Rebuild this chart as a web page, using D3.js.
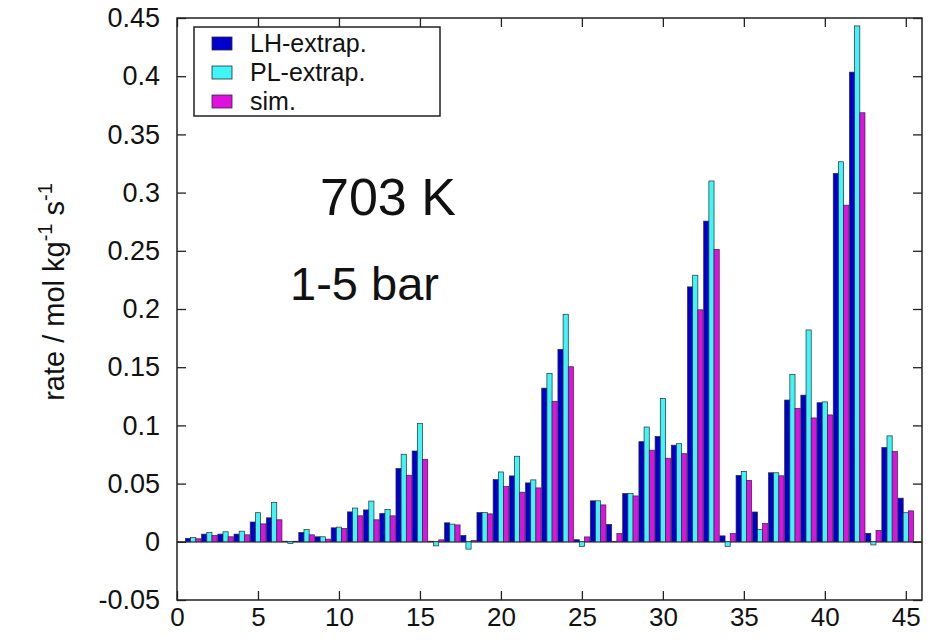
<!DOCTYPE html>
<html lang="en">
<head>
	<meta charset="utf-8">
	<title>Rate bars 703 K</title>
	<script src="https://d3js.org/d3.v7.min.js"></script>
	<style>
		body { margin: 0; background: #fff; }
		svg text { font-family: "Liberation Sans", Arial, sans-serif; fill: #111; }
		.tick line { stroke: #222; stroke-width: 1.3; }
		.domain { display: none; }
	</style>
</head>
<body>
	<div id="chart"></div>
	<script>
		// Data
		const cases = d3.range(1, 46);
		const seriesNames = ["LH-extrap.", "PL-extrap.", "sim."];
		const seriesColors = ["#0000cc", "#3ff5f5", "#e010e0"];

		const lhExtrap = [
			0.003, 0.0066, 0.0066, 0.0066, 0.017, 0.0206, 0.0005, 0.008, 0.0043, 0.012,
			0.0257, 0.0274, 0.0243, 0.063, 0.078, 0.0005, 0.0163, 0.0054, 0.0251, 0.0534,
			0.0566, 0.0506, 0.132, 0.1653, 0.0018, 0.0352, 0.0149, 0.0415, 0.086, 0.0905,
			0.083, 0.219, 0.2755, 0.0051, 0.057, 0.0256, 0.0593, 0.1218, 0.126, 0.1195,
			0.3165, 0.4035, 0.0073, 0.081, 0.0375
		];
		const plExtrap = [
			0.0037, 0.008, 0.0086, 0.0091, 0.025, 0.0337, -0.0015, 0.0105, 0.0043, 0.0126,
			0.029, 0.035, 0.0277, 0.0752, 0.1018, -0.0035, 0.0152, -0.0063, 0.0251, 0.06,
			0.0735, 0.0532, 0.1447, 0.1955, -0.004, 0.0352, 0.0003, 0.0415, 0.0986, 0.1232,
			0.0843, 0.229, 0.31, -0.004, 0.0605, 0.0105, 0.0593, 0.1438, 0.182, 0.1202,
			0.3265, 0.4432, -0.0027, 0.091, 0.025
		];
		const sim = [
			0.0026, 0.0054, 0.0043, 0.006, 0.0154, 0.0189, 0.0005, 0.006, 0.0023, 0.0114,
			0.0223, 0.0189, 0.0223, 0.0572, 0.0709, 0.0017, 0.0145, 0.0011, 0.024, 0.0474,
			0.0426, 0.0463, 0.1207, 0.1504, 0.0042, 0.0317, 0.0071, 0.0394, 0.0787, 0.0718,
			0.0757, 0.1993, 0.2512, 0.0071, 0.0528, 0.0157, 0.0567, 0.1146, 0.1064, 0.109,
			0.2892, 0.3686, 0.0098, 0.0775, 0.0266
		];
		const xTicks = [0, 5, 10, 15, 20, 25, 30, 35, 40, 45];
		const yTicks = [-0.05, 0, 0.05, 0.1, 0.15, 0.2, 0.25, 0.3, 0.35, 0.4, 0.45];

		// Chart dimensions
		const width = 935;
		const height = 644;
		const margin = { top: 18, right: 13, bottom: 44, left: 177 };
		const innerWidth = width - margin.left - margin.right;
		const innerHeight = height - margin.top - margin.bottom;

		const svg = d3.select("#chart")
			.append("svg")
			.attr("width", width)
			.attr("height", height);

		const bounds = svg.append("g")
			.attr("transform", `translate(${margin.left},${margin.top})`);

		// Scales
		const x = d3.scaleLinear()
			.domain([0, 46])
			.range([0, innerWidth]);

		const y = d3.scaleLinear()
			.domain([-0.05, 0.45])
			.range([innerHeight, 0]);

		// Axes (ticks inward, mirrored) - plain hyphen for negatives like the original
		const fmt = d => String(+d.toFixed(2));

		const yAxis = bounds.append("g")
			.call(d3.axisLeft(y).tickValues(yTicks).tickSize(-9).tickPadding(17).tickFormat(fmt));
		yAxis.selectAll("text").style("font-size", "27px");

		bounds.append("g")
			.attr("transform", `translate(${innerWidth},0)`)
			.call(d3.axisRight(y).tickValues(yTicks).tickSize(-9).tickFormat(""));

		const xAxis = bounds.append("g")
			.attr("transform", `translate(0,${innerHeight})`)
			.call(d3.axisBottom(x).tickValues(xTicks).tickSize(-9).tickPadding(8).tickFormat(fmt));
		xAxis.selectAll("text").style("font-size", "26px");

		bounds.append("g")
			.call(d3.axisTop(x).tickValues(xTicks).tickSize(-9).tickFormat(""));

		// Zero line
		bounds.append("line")
			.attr("x1", 0)
			.attr("x2", innerWidth)
			.attr("y1", y(0))
			.attr("y2", y(0))
			.attr("stroke", "#222")
			.attr("stroke-width", 1.2);

		// Bars
		const barW = 0.32;
		const series = [lhExtrap, plExtrap, sim];

		series.forEach((values, k) => {
			bounds.append("g")
				.selectAll("rect")
				.data(values)
				.join("rect")
				.attr("x", (d, i) => x(cases[i] - 1.5 * barW + k * barW))
				.attr("width", x(barW) - x(0))
				.attr("y", d => y(Math.max(d, 0)))
				.attr("height", d => Math.abs(y(d) - y(0)))
				.attr("fill", seriesColors[k])
				.attr("stroke", "#2a2a3a")
				.attr("stroke-width", 0.7);
		});

		// Frame
		bounds.append("rect")
			.attr("width", innerWidth)
			.attr("height", innerHeight)
			.attr("fill", "none")
			.attr("stroke", "#222")
			.attr("stroke-width", 1.5);

		// Legend
		const legend = svg.append("g");
		legend.append("rect")
			.attr("x", 194)
			.attr("y", 27)
			.attr("width", 246)
			.attr("height", 89)
			.attr("fill", "#fff")
			.attr("stroke", "#222")
			.attr("stroke-width", 1.5);

		seriesNames.forEach((name, k) => {
			legend.append("rect")
				.attr("x", 212)
				.attr("y", 37 + k * 29)
				.attr("width", 20)
				.attr("height", 13)
				.attr("fill", seriesColors[k])
				.attr("stroke", "#2a2a3a")
				.attr("stroke-width", 0.8);
			legend.append("text")
				.attr("x", 250)
				.attr("y", 52 + k * 29)
				.style("font-size", "25px")
				.text(name);
		});

		// Annotations
		svg.append("text")
			.attr("x", 320)
			.attr("y", 215)
			.style("font-size", "52px")
			.text("703 K");

		svg.append("text")
			.attr("x", 290)
			.attr("y", 300)
			.style("font-size", "47px")
			.text("1-5 bar");

		// Y axis title
		const title = svg.append("text")
			.attr("transform", "translate(64,292) rotate(-90)")
			.attr("text-anchor", "middle")
			.style("font-size", "29px");
		title.append("tspan").text("rate / mol kg");
		title.append("tspan").attr("dy", -12).style("font-size", "20px").text("-1");
		title.append("tspan").attr("dy", 12).text(" s");
		title.append("tspan").attr("dy", -12).style("font-size", "20px").text("-1");
	</script>
</body>
</html>
